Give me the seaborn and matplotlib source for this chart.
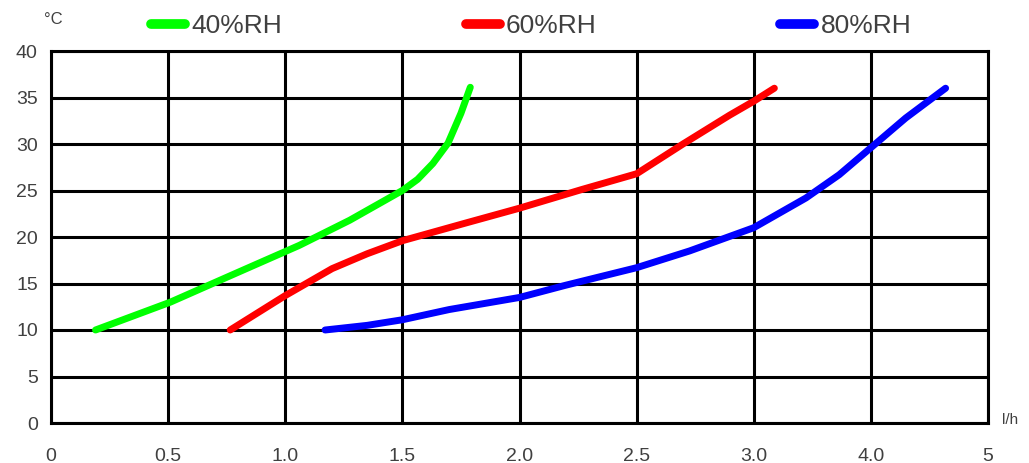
import numpy as np
import pandas as pd
import matplotlib
matplotlib.use("Agg")
import matplotlib.pyplot as plt
import seaborn as sns

# ---- data ----
x_ticks = [0, 0.5, 1.0, 1.5, 2.0, 2.5, 3.0, 3.5, 4.0]
x_tick_labels = ["0", "0.5", "1.0", "1.5", "2.0", "2.5", "3.0", "4.0", "5"]
y_ticks = [0, 5, 10, 15, 20, 25, 30, 35, 40]

rh40_x = [0.19, 0.51, 0.78, 1.06, 1.275, 1.50, 1.565, 1.63, 1.695, 1.75, 1.79]
rh40_y = [10.0, 13.0, 16.0, 19.1, 21.8, 25.0, 26.2, 27.9, 30.1, 33.3, 36.1]

rh60_x = [0.765, 1.00, 1.20, 1.35, 1.50, 1.77, 2.00, 2.265, 2.50, 2.698, 2.897, 3.00, 3.088]
rh60_y = [10.0, 13.7, 16.6, 18.2, 19.6, 21.5, 23.1, 25.1, 26.8, 30.0, 33.1, 34.6, 36.0]

rh80_x = [1.17, 1.35, 1.50, 1.70, 2.00, 2.195, 2.50, 2.726, 3.00, 3.223, 3.365, 3.50, 3.649, 3.819]
rh80_y = [10.0, 10.5, 11.1, 12.2, 13.5, 14.8, 16.7, 18.5, 21.0, 24.2, 26.7, 29.6, 32.8, 36.0]

series_names = ["40%RH", "60%RH", "80%RH"]
series_colors = ["#00FF00", "#FF0000", "#0000FF"]

sns.set_style("white")
plt.rcParams["font.family"] = ["Liberation Sans", "DejaVu Sans"]

fig = plt.figure(figsize=(10.29, 4.63), dpi=100)
ax = fig.add_axes([51 / 1029, 1 - 423 / 463, 937 / 1029, 372 / 463])

for xs, ys, name, col in zip([rh40_x, rh60_x, rh80_x], [rh40_y, rh60_y, rh80_y],
                             series_names, series_colors):
    df = pd.DataFrame({"x": xs, "y": ys})
    sns.lineplot(data=df, x="x", y="y", ax=ax, color=col, linewidth=5,
                 label=name, sort=False, estimator=None,
                 solid_capstyle="round", solid_joinstyle="round", zorder=3)

ax.set_xlim(0, 4)
ax.set_ylim(0, 40)
ax.set_xticks(x_ticks)
ax.set_xticklabels(x_tick_labels)
ax.set_yticks(y_ticks)
ax.set_xlabel("")
ax.set_ylabel("")
ax.grid(True, color="black", linewidth=2.2)
ax.set_axisbelow(True)
for s in ax.spines.values():
    s.set_visible(True)
    s.set_color("black")
    s.set_linewidth(2.2)
ax.tick_params(axis="x", length=0, pad=18, labelsize=14, labelcolor="#404040")
ax.tick_params(axis="y", length=0, pad=9.5, labelsize=14, labelcolor="#404040")

leg = ax.legend(loc="center left", bbox_to_anchor=(151 / 1029, 1 - 26 / 463),
                bbox_transform=fig.transFigure, ncol=3, frameon=False,
                fontsize=19, handlelength=1.3, handletextpad=0.23,
                columnspacing=6.95, borderpad=0, borderaxespad=0)
for ln in leg.get_lines():
    ln.set_linewidth(7)
    ln.set_solid_capstyle("round")
for t in leg.get_texts():
    t.set_color("#404040")

fig.text(53 / 1029, 1 - 20 / 463, "°C", fontsize=12, color="#404040",
         ha="center", va="center")
fig.text(1010 / 1029, 1 - 420 / 463, "l/h", fontsize=11, color="#404040",
         ha="center", va="center")

fig.savefig("out.png", dpi=100)
